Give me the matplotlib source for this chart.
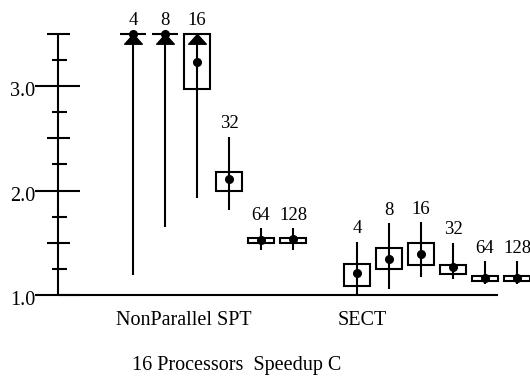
import numpy as np
import matplotlib
matplotlib.use("Agg")
import matplotlib.pyplot as plt
from matplotlib.patches import Rectangle
from matplotlib.path import Path

plt.rcParams['font.family'] = ['Liberation Serif', 'DejaVu Serif']

# --- data (values above 3.5 are off the chart and get clipped) ---
procs = [4, 8, 16, 32, 64, 128]
groups = ['NonParallel SPT', 'SECT']

spt_mean = [3.9, 3.8, 3.23, 2.11, 1.53, 1.54]
spt_box_lo = [3.6, 3.55, 2.97, 2.0, 1.50, 1.495]
spt_box_hi = [4.3, 4.1, 3.6, 2.18, 1.55, 1.55]
spt_whisk_lo = [1.19, 1.65, 1.93, 1.81, 1.43, 1.43]
spt_whisk_hi = [5.0, 4.8, 4.2, 2.515, 1.64, 1.64]

sect_mean = [1.21, 1.345, 1.39, 1.265, 1.165, 1.16]
sect_box_lo = [1.086, 1.245, 1.287, 1.20, 1.134, 1.134]
sect_box_hi = [1.30, 1.45, 1.495, 1.287, 1.185, 1.185]
sect_whisk_lo = [0.95, 1.057, 1.175, 1.15, 1.11, 1.11]
sect_whisk_hi = [1.51, 1.69, 1.70, 1.50, 1.325, 1.325]

yticks_major = [1.0, 2.0, 3.0]
ytick_labels = ['1.0', '2.0', '3.0']
yticks_half = [1.5, 2.5, 3.5]
yticks_quarter = [1.25, 1.75, 2.25, 2.75, 3.25]

title = '16 Processors  Speedup C'

YMIN, YMAX = 1.0, 3.5
BOX_W = 0.84
LW = 1.5
FS = 14.5

fig = plt.figure(figsize=(5.3, 3.77), dpi=100)
ax = fig.add_axes([0, 0, 1, 1])
ax.set_xlim(-4.156, 12.406)
ax.set_ylim(0.2153, 3.823)
ax.axis('off')

# triangle marker with its apex at the data point
tri = Path([(0, 0), (-1, -1.1), (1, -1.1), (0, 0)],
           [Path.MOVETO, Path.LINETO, Path.LINETO, Path.CLOSEPOLY])

# y axis
ax_x = -2.344
ax.vlines(ax_x, YMIN, YMAX, color='black', lw=LW)
ax.hlines(yticks_major, -3.06, -1.656, color='black', lw=LW)
ax.hlines(yticks_half, -2.69, -1.97, color='black', lw=LW)
ax.hlines(yticks_quarter, -2.53, -2.06, color='black', lw=LW)
for v, lab in zip(yticks_major, ytick_labels):
    ax.text(-3.06, v - 0.1, lab, ha='right', va='baseline', fontsize=FS)

# baseline
ax.hlines(YMIN, ax_x, 11.4, color='black', lw=LW)


def draw_group(start, mean, blo, bhi, wlo, whi):
    for k in range(len(procs)):
        x = start + k
        lo = max(wlo[k], YMIN)
        hi = min(whi[k], YMAX)
        ax.vlines(x, lo, hi, color='black', lw=LW)
        b0 = min(max(blo[k], YMIN), YMAX)
        b1 = min(max(bhi[k], YMIN), YMAX)
        ax.add_patch(Rectangle((x - BOX_W / 2, b0), BOX_W, b1 - b0,
                               fill=False, ec='black', lw=LW))
        if whi[k] > YMAX:
            ax.plot(x, YMAX, marker=tri, ms=14, color='black', ls='none')
        ax.plot(x, min(mean[k], YMAX), marker='o', ms=5.5, color='black',
                ls='none')
        ax.annotate(str(procs[k]), (x, hi), xytext=(0, 6),
                    textcoords='offset points', ha='center', va='baseline',
                    fontsize=13.5)


draw_group(0, spt_mean, spt_box_lo, spt_box_hi, spt_whisk_lo, spt_whisk_hi)
draw_group(7, sect_mean, sect_box_lo, sect_box_hi, sect_whisk_lo, sect_whisk_hi)

ax.text(1.6, 0.713, groups[0], ha='center', va='baseline', fontsize=FS)
ax.text(7.15, 0.713, groups[1], ha='center', va='baseline', fontsize=FS)
ax.text(3.24, 0.282, title, ha='center', va='baseline', fontsize=FS)

fig.savefig('out.png', dpi=100)
